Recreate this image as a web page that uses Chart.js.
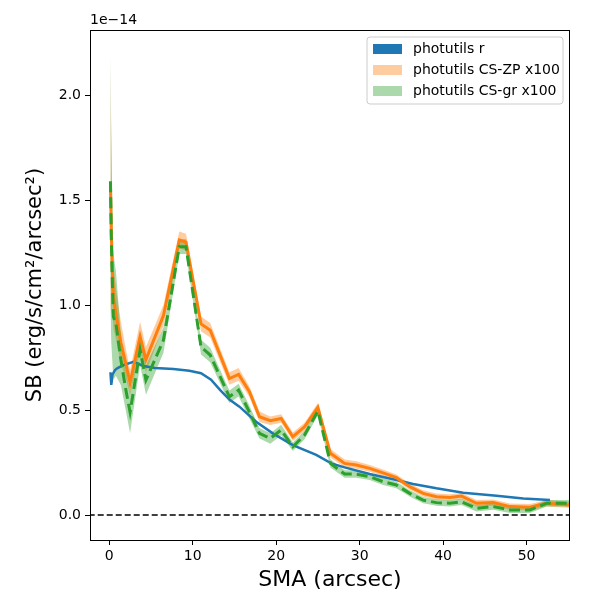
<!DOCTYPE html>
<html>
<head>
<meta charset="utf-8">
<script src="https://cdn.jsdelivr.net/npm/chart.js@4.4.1/dist/chart.umd.min.js"></script>
<style>
  body { margin: 0; background: #fff; }
  #sb { display: block; }
</style>
</head>
<body>
<canvas id="sb" width="600" height="600"></canvas>
<script>
// Surface brightness profiles, values in units of 1e-14 erg/s/cm2/arcsec2
const smaR = [0.15, 0.25, 0.4, 0.7, 1.0, 1.7, 2.9, 4.1, 5.5, 7.7, 9.6, 11.0, 12.2, 13.3, 14.4, 15.6, 17.6, 19.6, 22.0, 24.8, 26.6, 28.2, 31.2, 34.4, 36.4, 39.2, 42.4, 46.4, 49.6, 52.8];
const sbR  = [0.68, 0.62, 0.67, 0.69, 0.70, 0.714, 0.73, 0.71, 0.70, 0.695, 0.687, 0.675, 0.645, 0.595, 0.55, 0.516, 0.444, 0.389, 0.333, 0.286, 0.246, 0.227, 0.195, 0.167, 0.148, 0.127, 0.106, 0.092, 0.079, 0.071];

const smaCS = [0.15, 0.25, 0.35, 0.5, 0.8, 1.4, 2.0, 2.5, 3.7, 4.4, 6.5, 8.4, 9.2, 11.0, 12.1, 14.4, 15.5, 16.8, 18.0, 19.3, 20.6, 22.0, 23.4, 25.0, 26.5, 28.2, 29.6, 31.2, 32.8, 34.4, 36.0, 37.6, 39.2, 40.8, 42.2, 44.0, 46.0, 48.0, 50.4, 52.4, 55.2, 57.0];
const sbZP  = [1.57, 1.35, 1.2, 1.04, 0.96, 0.82, 0.72, 0.63, 0.85, 0.74, 0.95, 1.31, 1.30, 0.91, 0.88, 0.65, 0.67, 0.587, 0.468, 0.449, 0.46, 0.373, 0.42, 0.513, 0.294, 0.246, 0.238, 0.222, 0.201, 0.178, 0.135, 0.103, 0.087, 0.084, 0.09, 0.056, 0.059, 0.04, 0.037, 0.056, 0.048, 0.048];
const errZP = [0.58, 0.4, 0.2, 0.15, 0.12, 0.1, 0.07, 0.06, 0.07, 0.06, 0.05, 0.04, 0.04, 0.035, 0.035, 0.03, 0.03, 0.025, 0.025, 0.02, 0.02, 0.02, 0.02, 0.02, 0.02, 0.018, 0.018, 0.016, 0.016, 0.015, 0.015, 0.015, 0.015, 0.015, 0.015, 0.015, 0.015, 0.015, 0.015, 0.015, 0.015, 0.015];
const sbGR  = [1.59, 1.32, 1.15, 0.944, 0.913, 0.738, 0.595, 0.49, 0.786, 0.643, 0.833, 1.278, 1.278, 0.80, 0.762, 0.563, 0.595, 0.49, 0.389, 0.365, 0.405, 0.325, 0.381, 0.495, 0.246, 0.195, 0.195, 0.183, 0.159, 0.143, 0.103, 0.071, 0.059, 0.056, 0.063, 0.032, 0.04, 0.024, 0.024, 0.056, 0.056, 0.056];
const errGR = [0.61, 0.5, 0.4, 0.3, 0.25, 0.12, 0.1, 0.1, 0.07, 0.07, 0.06, 0.035, 0.035, 0.035, 0.035, 0.03, 0.03, 0.03, 0.025, 0.025, 0.025, 0.02, 0.02, 0.02, 0.02, 0.018, 0.018, 0.016, 0.016, 0.015, 0.015, 0.015, 0.015, 0.015, 0.015, 0.015, 0.015, 0.015, 0.015, 0.015, 0.015, 0.015];

const xTicks = [0, 10, 20, 30, 40, 50];
const yTicks = [0.0, 0.5, 1.0, 1.5, 2.0];
const legendLabels = ['photutils r', 'photutils CS-ZP x100', 'photutils CS-gr x100'];

const BLUE = '#1f77b4', ORANGE = '#ff7f0e', GREEN = '#2ca02c';
const FONT = 'DejaVu Sans';

function pts(xs, ys, off = null, sign = 0) {
    return xs.map((x, i) => ({ x: x, y: ys[i] + (off ? sign * off[i] : 0) }));
}

const bandLine = { borderWidth: 0, pointRadius: 0, tension: 0, borderColor: 'rgba(0,0,0,0)' };

// frame, legend and offset text drawn after the datasets
const decorations = {
    id: 'decorations',
    afterDraw(chart) {
        const { ctx, chartArea: a } = chart;
        ctx.save();
        ctx.strokeStyle = '#000';
        ctx.lineWidth = 1;
        ctx.strokeRect(a.left + 0.5, a.top + 0.5, a.right - a.left - 1, a.bottom - a.top);

        ctx.fillStyle = '#000';
        ctx.font = `14px "${FONT}"`;
        ctx.textBaseline = 'alphabetic';
        ctx.textAlign = 'left';
        ctx.fillText('1e\u221214', a.left, a.top - 6);

        // legend box
        const lx = 367, ly = 37, lw = 196, lh = 67, r = 3;
        ctx.beginPath();
        ctx.moveTo(lx + r, ly);
        ctx.arcTo(lx + lw, ly, lx + lw, ly + lh, r);
        ctx.arcTo(lx + lw, ly + lh, lx, ly + lh, r);
        ctx.arcTo(lx, ly + lh, lx, ly, r);
        ctx.arcTo(lx, ly, lx + lw, ly, r);
        ctx.closePath();
        ctx.fillStyle = 'rgba(255,255,255,0.8)';
        ctx.fill();
        ctx.strokeStyle = '#cccccc';
        ctx.stroke();

        const swatches = [BLUE, 'rgba(255,127,14,0.4)', 'rgba(44,160,44,0.4)'];
        legendLabels.forEach((label, i) => {
            const cy = 49 + i * 21;
            ctx.fillStyle = swatches[i];
            ctx.fillRect(373, cy - 5, 29, 10);
            ctx.fillStyle = '#000';
            ctx.textBaseline = 'middle';
            ctx.fillText(label, 413, cy);
        });
        ctx.restore();
    }
};

const ctx = document.getElementById('sb').getContext('2d');
new Chart(ctx, {
    type: 'line',
    data: {
        datasets: [
            // 0,1: CS-ZP band; 2,3: CS-gr band
            { ...bandLine, data: pts(smaCS, sbZP, errZP, -1), fill: false, order: 10 },
            { ...bandLine, data: pts(smaCS, sbZP, errZP, 1), fill: 0, backgroundColor: 'rgba(255,127,14,0.4)', order: 9 },
            { ...bandLine, data: pts(smaCS, sbGR, errGR, -1), fill: false, order: 8 },
            { ...bandLine, data: pts(smaCS, sbGR, errGR, 1), fill: 2, backgroundColor: 'rgba(44,160,44,0.4)', order: 7 },
            // zero reference
            { data: [{ x: -10, y: 0 }, { x: 70, y: 0 }], borderColor: '#000', borderWidth: 1.5, borderDash: [6, 3], pointRadius: 0, fill: false, order: 6 },
            { data: pts(smaR, sbR), borderColor: BLUE, borderWidth: 2.5, pointRadius: 0, tension: 0, fill: false, order: 5 },
            { data: pts(smaCS, sbZP), borderColor: ORANGE, borderWidth: 3, pointRadius: 0, tension: 0, fill: false, order: 4 },
            { data: pts(smaCS, sbGR), borderColor: GREEN, borderWidth: 3, borderDash: [11, 5], pointRadius: 0, tension: 0, fill: false, order: 3 }
        ]
    },
    options: {
        responsive: false,
        animation: false,
        events: [],
        layout: { padding: { top: 30, right: 30, left: 0, bottom: 0 } },
        scales: {
            x: {
                type: 'linear',
                min: -2.3,
                max: 55.2,
                afterFit(scale) { scale.height = 60; },
                afterBuildTicks(scale) { scale.ticks = xTicks.map(v => ({ value: v })); },
                grid: { drawOnChartArea: false, drawTicks: true, tickLength: 5, color: '#000', lineWidth: 1 },
                border: { display: false },
                ticks: { color: '#000', font: { family: FONT, size: 14 }, padding: 3, maxRotation: 0, callback: v => String(v) },
                title: { display: true, text: 'SMA (arcsec)', color: '#000', font: { family: FONT, size: 22 }, padding: { top: 0, bottom: 7 } }
            },
            y: {
                type: 'linear',
                min: -0.119,
                max: 2.31,
                afterFit(scale) { scale.width = 90; },
                afterBuildTicks(scale) { scale.ticks = yTicks.map(v => ({ value: v })); },
                grid: { drawOnChartArea: false, drawTicks: true, tickLength: 5, color: '#000', lineWidth: 1 },
                border: { display: false },
                ticks: { color: '#000', font: { family: FONT, size: 14 }, padding: 4, callback: v => v.toFixed(1) },
                title: { display: true, text: 'SB (erg/s/cm\u00b2/arcsec\u00b2)', color: '#000', font: { family: FONT, size: 21 }, padding: { top: 23, bottom: 0 } }
            }
        },
        plugins: {
            legend: { display: false },
            tooltip: { enabled: false },
            filler: { drawTime: 'beforeDatasetsDraw', propagate: false }
        }
    },
    plugins: [decorations]
});
</script>
</body>
</html>
